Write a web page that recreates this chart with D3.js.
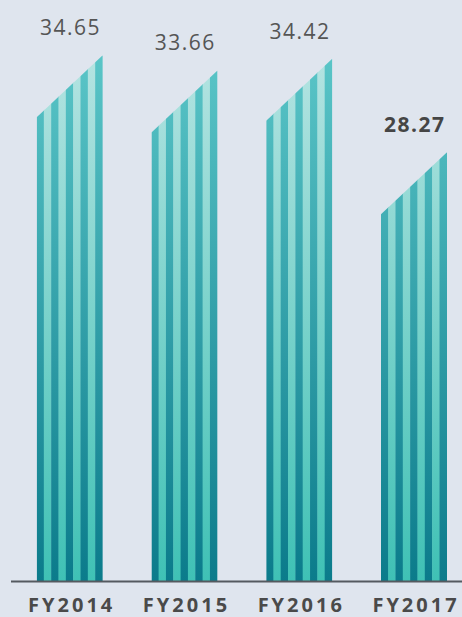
<!DOCTYPE html>
<html>
<head>
<meta charset="utf-8">
<script src="https://cdn.jsdelivr.net/npm/d3@7"></script>
<style>
  html, body { margin: 0; padding: 0; background: #dfe5ee; }
  svg { display: block; }
</style>
</head>
<body>
<div id="chart"></div>
<script>
const categories = ["FY2014", "FY2015", "FY2016", "FY2017"];
const values = [34.65, 33.66, 34.42, 28.27];
const valueLabels = ["34.65", "33.66", "34.42", "28.27"];
const highlighted = [false, false, false, true];

const W = 462, H = 617;
const baseY = 581;
const barW = 66;
const slant = 62;
const nStripes = 9;

const svg = d3.select("#chart").append("svg")
  .attr("width", W).attr("height", H);

svg.append("rect").attr("width", W).attr("height", H).attr("fill", "#dfe5ee");

const x = d3.scalePoint().domain(categories).range([69.7, 414]);
const y = d3.scaleLinear().domain([0, 38.3]).range([baseY, 0]);

const defs = svg.append("defs");
function grad(id, top, bottom) {
  const g = defs.append("linearGradient").attr("id", id)
    .attr("gradientUnits", "userSpaceOnUse")
    .attr("x1", 0).attr("x2", 0).attr("y1", 50).attr("y2", baseY);
  g.append("stop").attr("offset", "0%").attr("stop-color", top);
  g.append("stop").attr("offset", "100%").attr("stop-color", bottom);
}
grad("gDark", "#5bc6c8", "#0b7b8b");
grad("gLight", "#b6e4e2", "#3fc1b5");

const data = categories.map((c, i) => ({ c, v: values[i], label: valueLabels[i], hl: highlighted[i], i }));

data.forEach(d => {
  const left = x(d.c) - barW / 2, right = left + barW;
  const rTop = y(d.v), lTop = rTop + slant;
  defs.append("clipPath").attr("id", "clip" + d.i)
    .append("polygon")
    .attr("points", [[left, baseY], [left, lTop], [right, rTop], [right, baseY]].map(p => p.join(",")).join(" "));
  const g = svg.append("g").attr("clip-path", `url(#clip${d.i})`);
  const sw = barW / nStripes;
  d3.range(nStripes).forEach(k => {
    g.append("rect")
      .attr("x", left + k * sw - (k > 0 ? 0.2 : 0))
      .attr("y", rTop)
      .attr("width", sw + 0.4)
      .attr("height", baseY - rTop)
      .attr("fill", k % 2 === 0 ? "url(#gDark)" : "url(#gLight)");
  });
  svg.append("text")
    .attr("x", x(d.c) + 0.8)
    .attr("y", rTop - 20)
    .attr("text-anchor", "middle")
    .attr("font-family", "'Open Sans', sans-serif")
    .attr("font-size", 21)
    .attr("font-weight", d.hl ? 700 : 400)
    .attr("letter-spacing", "1.5px")
    .attr("fill", d.hl ? "#454545" : "#555555")
    .text(d.label);
});

svg.append("line")
  .attr("x1", 11).attr("x2", W)
  .attr("y1", baseY + 0.5).attr("y2", baseY + 0.5)
  .attr("stroke", "#555a60").attr("stroke-width", 2);

const xAxis = d3.axisBottom(x).tickSize(0).tickPadding(0);
const ax = svg.append("g").attr("transform", `translate(1.5,${baseY})`).call(xAxis);
ax.select(".domain").remove();
ax.selectAll("text")
  .attr("y", 30.5)
  .attr("dy", 0)
  .attr("font-family", "'Open Sans', sans-serif")
  .attr("font-size", 20)
  .attr("font-weight", 700)
  .attr("letter-spacing", "3px")
  .attr("fill", "#4a4a4a");
</script>
</body>
</html>
